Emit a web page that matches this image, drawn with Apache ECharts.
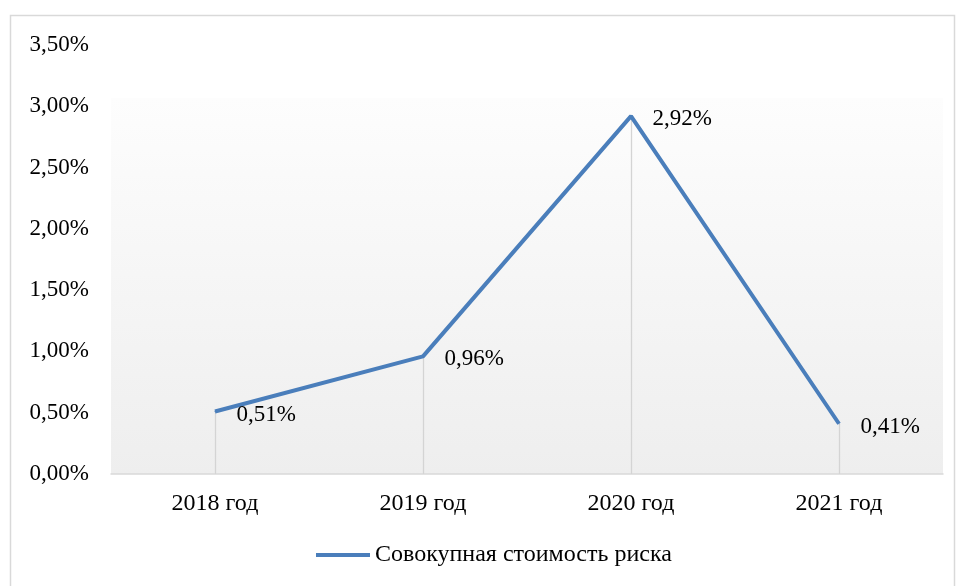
<!DOCTYPE html>
<html><head><meta charset="utf-8">
<script src="https://cdn.jsdelivr.net/npm/echarts@6/dist/echarts.min.js"></script>
<style>html,body{margin:0;padding:0;background:#fff}#c{width:959px;height:586px}</style>
</head><body><div id="c"></div>
<script>
const categories = ['2018 год', '2019 год', '2020 год', '2021 год'];
const values = [0.51, 0.96, 2.92, 0.41];
const seriesName = 'Совокупная стоимость риска';

const fmt = v => v.toFixed(2).replace('.', ',') + '%';
const font = '"Liberation Serif", "Times New Roman", serif';

const chart = echarts.init(document.getElementById('c'));
chart.setOption({
  animation: false,
  graphic: [{
    type: 'rect', left: 8, top: 13, shape: {width: 944, height: 590},
    style: {fill: 'none', stroke: '#d9d9d9', lineWidth: 1.5}, z: -10
  }, {
    type: 'rect', left: 111, top: 98, shape: {width: 832, height: 376}, silent: true,
    style: {fill: {type: 'linear', x: 0, y: 0, x2: 0, y2: 1,
      colorStops: [{offset: 0, color: '#fdfdfd'}, {offset: 1, color: '#eeeeee'}]}},
    z: -5
  }],
  grid: {left: 111, right: 16, top: 45, bottom: 112},
  legend: {bottom: 14, left: 311, itemWidth: 54, itemHeight: 4, itemGap: 5,
    icon: 'rect',
    itemStyle: {color: '#4a7ebb', opacity: 1},
    textStyle: {fontFamily: font, fontSize: 24, color: '#000'},
    data: [{name: seriesName}]},
  xAxis: {type: 'category', data: categories, boundaryGap: true,
    axisLine: {lineStyle: {color: '#d9d9d9', width: 1.5}},
    axisTick: {show: false},
    axisLabel: {fontFamily: font, fontSize: 24, color: '#000', margin: 18}},
  yAxis: {type: 'value', min: 0, max: 3.5, interval: 0.5,
    splitLine: {show: false}, axisLine: {show: false}, axisTick: {show: false},
    axisLabel: {fontFamily: font, fontSize: 23, color: '#000', margin: 22, formatter: v => fmt(v)}},
  series: [{
    name: seriesName, type: 'line', data: values, showSymbol: true, symbol: 'circle', symbolSize: 1,
    lineStyle: {color: '#4a7ebb', width: 4},
    itemStyle: {color: '#4a7ebb'},
    label: {show: true, position: 'right', distance: 21, offset: [0, 3],
      fontFamily: font, fontSize: 23, color: '#000', formatter: p => fmt(p.value)},
    markLine: {silent: true, symbol: 'none', label: {show: false},
      lineStyle: {color: '#d4d4d4', width: 1.3, type: 'solid'},
      data: categories.map((c, i) => [{xAxis: c, yAxis: 0}, {xAxis: c, yAxis: values[i]}])},
    z: 5
  }]
});
</script></body></html>
